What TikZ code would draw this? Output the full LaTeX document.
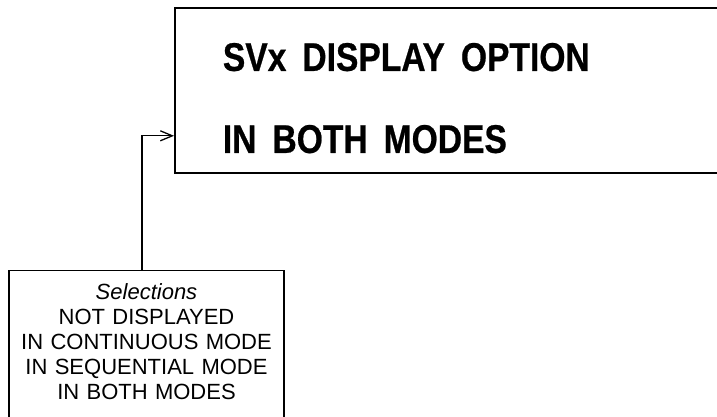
\documentclass[tikz,border=0pt]{standalone}
\usepackage{fontspec}
\setmainfont{Liberation Sans}
\newfontfamily\dispfont[FakeStretch=0.84, BoldFeatures={FakeBold=0.6}]{Liberation Sans}
\usetikzlibrary{arrows.meta}

\begin{document}
\begin{tikzpicture}[
        x=1pt, y=-1pt,
        dispbox/.style={rectangle, draw, line width=1.8pt, anchor=north west, inner xsep=48pt, inner ysep=10pt, text width=504pt, text height=53pt, text depth=92pt, align=left, font=\dispfont\bfseries\fontsize{40pt}{82pt}\selectfont},
        selbox/.style={rectangle, draw, line width=1.3pt, anchor=north, inner xsep=4pt, inner ysep=13pt, text width=267pt, text height=16pt, text depth=135pt, align=center, font=\fontsize{22pt}{25pt}\selectfont},
        arrow/.style={line width=1.3pt, -{Straight Barb[length=12pt, width=10pt]}}
    ]
        \useasboundingbox (0,0) rectangle (717,417);
        \clip (0,0) rectangle (717,417);
        \node (disp) [dispbox] at (174,7) {SVx\hspace{16pt}DISPLAY\hspace{16pt}OPTION\\IN\hspace{16pt}BOTH\hspace{16pt}MODES};
        \node (sel) [selbox] at (146.5,270) {\textit{Selections}\\NOT DISPLAYED\\IN CONTINUOUS MODE\\IN SEQUENTIAL MODE\\IN BOTH MODES};

        \draw [arrow] ([xshift=-4.5pt]sel.north) |- ([yshift=38pt]disp.south west);
    \end{tikzpicture}
\end{document}
